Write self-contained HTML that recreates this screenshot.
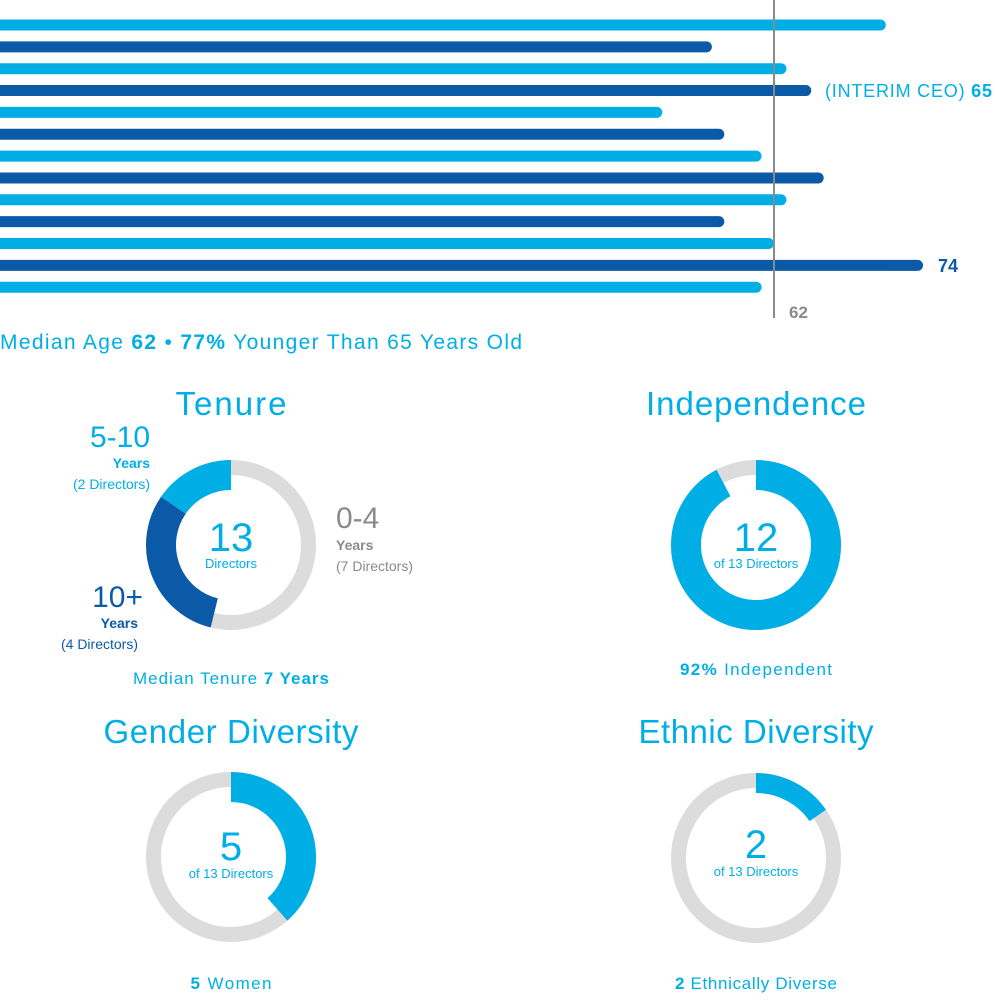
<!DOCTYPE html>
<html><head><meta charset="utf-8"><style>
html,body{margin:0;padding:0;background:#fff;}
svg{display:block;font-family:"Liberation Sans",sans-serif;}
.l{fill:#00aee6}.d{fill:#0b5aa8}.g{fill:#8a8a8a}
</style></head><body>
<svg id="chart" width="995" height="1003" viewBox="0 0 995 1003" xmlns="http://www.w3.org/2000/svg">
<g id="bars"></g>
<line x1="774" y1="0" x2="774" y2="318" stroke="#8a8a8a" stroke-width="2"/>
<text x="789" y="318" class="g" font-size="17" font-weight="bold">62</text>
<text x="825" y="97" class="l" font-size="18" textLength="167" lengthAdjust="spacing">(INTERIM CEO) <tspan font-weight="bold">65</tspan></text>
<text x="938" y="272" class="d" font-size="18" font-weight="bold">74</text>
<text x="0" y="349" class="l" font-size="21" textLength="522" lengthAdjust="spacing">Median Age <tspan font-weight="bold">62</tspan> • <tspan font-weight="bold">77%</tspan> Younger Than 65 Years Old</text>

<text x="231" y="415" class="l" font-size="33" text-anchor="middle" textLength="111" lengthAdjust="spacing">Tenure</text>
<text x="756" y="415" class="l" font-size="33" text-anchor="middle" textLength="220" lengthAdjust="spacing">Independence</text>
<text x="231" y="743" class="l" font-size="33" text-anchor="middle" textLength="255" lengthAdjust="spacing">Gender Diversity</text>
<text x="756" y="743" class="l" font-size="33" text-anchor="middle" textLength="235" lengthAdjust="spacing">Ethnic Diversity</text>

<g id="donuts"></g>

<text x="231" y="551" class="l" font-size="40" text-anchor="middle">13</text>
<text x="231" y="568" class="l" font-size="13" text-anchor="middle">Directors</text>
<text x="150" y="447" class="l" font-size="30" text-anchor="end">5-10</text>
<text x="150" y="468" class="l" font-size="14" font-weight="bold" text-anchor="end">Years</text>
<text x="150" y="489" class="l" font-size="14" text-anchor="end">(2 Directors)</text>
<text x="143" y="607" class="d" font-size="30" text-anchor="end">10+</text>
<text x="138" y="628" class="d" font-size="14" font-weight="bold" text-anchor="end">Years</text>
<text x="138" y="649" class="d" font-size="14" text-anchor="end">(4 Directors)</text>
<text x="336" y="528" class="g" font-size="30">0-4</text>
<text x="336" y="550" class="g" font-size="14" font-weight="bold">Years</text>
<text x="336" y="571" class="g" font-size="14">(7 Directors)</text>
<text x="231" y="684" class="l" font-size="17" text-anchor="middle" textLength="196" lengthAdjust="spacing">Median Tenure <tspan font-weight="bold">7 Years</tspan></text>

<text x="756" y="551" class="l" font-size="40" text-anchor="middle">12</text>
<text x="756" y="568" class="l" font-size="13" text-anchor="middle">of 13 Directors</text>
<text x="756" y="675" class="l" font-size="17" text-anchor="middle" textLength="152" lengthAdjust="spacing"><tspan font-weight="bold">92%</tspan> Independent</text>

<text x="231" y="860" class="l" font-size="40" text-anchor="middle">5</text>
<text x="231" y="878" class="l" font-size="13" text-anchor="middle">of 13 Directors</text>
<text x="231" y="989" class="l" font-size="17" text-anchor="middle" textLength="81" lengthAdjust="spacing"><tspan font-weight="bold">5</tspan> Women</text>

<text x="756" y="858" class="l" font-size="40" text-anchor="middle">2</text>
<text x="756" y="876" class="l" font-size="13" text-anchor="middle">of 13 Directors</text>
<text x="756" y="989" class="l" font-size="17" text-anchor="middle" textLength="162" lengthAdjust="spacing"><tspan font-weight="bold">2</tspan> Ethnically Diverse</text>
</svg>
<script>
const ages = [71, 57, 63, 65, 53, 58, 61, 66, 63, 58, 62, 74, 61];
const tenureCounts = [7, 4, 2];
const independentCount = [12];
const womenCount = [5];
const ethnicCount = [2];
const boardSize = 13;

const NS = "http://www.w3.org/2000/svg";
const LIGHT = "#00aee6", DARK = "#0b5aa8", GRAY = "#dcdcdd";
function xAge(a){ return 774 + (a - 62) * 12.42; }
function yBar(i){ return 25 + i * 21.85; }

const bars = document.getElementById('bars');
ages.forEach((a, i) => {
  const r = document.createElementNS(NS, 'rect');
  const h = 11;
  r.setAttribute('x', -10);
  r.setAttribute('y', yBar(i) - h/2);
  r.setAttribute('width', xAge(a) + 10);
  r.setAttribute('height', h);
  r.setAttribute('rx', h/2);
  r.setAttribute('fill', i % 2 ? DARK : LIGHT);
  
  
  bars.appendChild(r);
});

const donuts = document.getElementById('donuts');
function arc(cx, cy, r, f0, f1, color, w, name){
  const a0 = f0 * 2 * Math.PI - Math.PI/2, a1 = f1 * 2 * Math.PI - Math.PI/2;
  const large = (f1 - f0) > 0.5 ? 1 : 0;
  const p = document.createElementNS(NS, 'path');
  if (f1 - f0 >= 0.9999) {
    p.setAttribute('d', `M${cx} ${cy-r}A${r} ${r} 0 1 1 ${cx-0.01} ${cy-r}`);
  } else {
    p.setAttribute('d', `M${cx+r*Math.cos(a0)} ${cy+r*Math.sin(a0)}A${r} ${r} 0 ${large} 1 ${cx+r*Math.cos(a1)} ${cy+r*Math.sin(a1)}`);
  }
  p.setAttribute('fill', 'none');
  p.setAttribute('stroke', color);
  p.setAttribute('stroke-width', w);
  
  
  donuts.appendChild(p);
}
const R = 85, GW = 15;
function ring(cx, cy, name){ arc(cx, cy, R - GW/2, 0, 1, GRAY, GW, name); }
function seg(cx, cy, f0, f1, color, w, name){ arc(cx, cy, R - w/2, f0, f1, color, w, name); }

const tf = tenureCounts.map(c => c / boardSize);
seg(231, 545, 0, tf[0], GRAY, 15, 'tenure-0-4-segment');
seg(231, 545, tf[0], tf[0] + tf[1], DARK, 30, 'tenure-10plus-segment');
seg(231, 545, tf[0] + tf[1], 1, LIGHT, 30, 'tenure-5-10-segment');
ring(756, 545, 'independence-ring');
seg(756, 545, 0, independentCount[0] / boardSize, LIGHT, 30, 'independence-segment');
ring(231, 857, 'gender-ring');
seg(231, 857, 0, womenCount[0] / boardSize, LIGHT, 30, 'gender-segment');
ring(756, 858, 'ethnic-ring');
seg(756, 858, 0, ethnicCount[0] / boardSize, LIGHT, 20, 'ethnic-segment');
</script>
</body></html>
